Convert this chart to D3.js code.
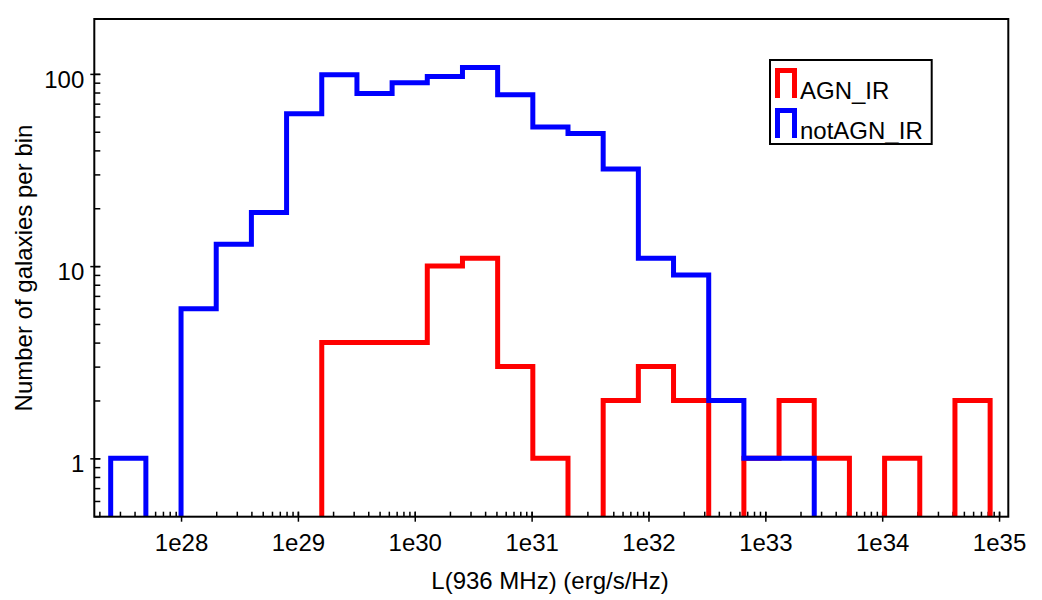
<!DOCTYPE html>
<html>
<head>
<meta charset="utf-8">
<script src="https://cdn.jsdelivr.net/npm/d3@7"></script>
<style>
  html, body { margin: 0; padding: 0; background: #fff; }
  svg { display: block; font-family: "Liberation Sans", Arial, Helvetica, sans-serif; }
</style>
</head>
<body>
<div class="canvas"></div>
<script>
// bin edges (erg/s/Hz), factor-2 log bins
const binEdges = [2.5e27, 5e27, 1e28, 2e28, 4e28, 8e28, 1.6e29, 3.2e29, 6.4e29, 1.28e30,
  2.56e30, 5.12e30, 1.024e31, 2.048e31, 4.096e31, 8.192e31, 1.6384e32, 3.2768e32,
  6.5536e32, 1.31072e33, 2.62144e33, 5.24288e33, 1.048576e34, 2.097152e34, 4.194304e34, 8.388608e34];

const agnCounts    = [0, 0, 0, 0, 0, 0, 4, 4, 4, 10, 11, 3, 1, 0, 2, 3, 2, 0, 1, 2, 1, 0, 1, 0, 2];
const notAgnCounts = [1, 0, 6, 13, 19, 62, 99, 79, 90, 97, 108, 78, 53, 49, 32, 11, 9, 2, 1, 1, 0, 0, 0, 0, 0];

const seriesNames = ['AGN_IR', 'notAGN_IR'];
const seriesColors = ['#ff0000', '#0000ff'];

const xDomain = [1.81e27, 1.2e35];
const yDomain = [0.497, 193];
const xTickLabels = ['1e28', '1e29', '1e30', '1e31', '1e32', '1e33', '1e34', '1e35'];
const yTickLabels = ['1', '10', '100'];

const dims = { width: 1042, height: 600 };
const frame = { left: 94.3, right: 1008.3, top: 19, bottom: 516.7 };

const svg = d3.select('.canvas')
  .append('svg')
  .attr('width', dims.width)
  .attr('height', dims.height);

const x = d3.scaleLog().domain(xDomain).range([frame.left, frame.right]);
const y = d3.scaleLog().domain(yDomain).range([frame.bottom, frame.top]);

svg.append('defs').append('clipPath')
  .attr('id', 'plotClip')
  .append('rect')
    .attr('x', frame.left)
    .attr('y', frame.top)
    .attr('width', frame.right - frame.left)
    .attr('height', frame.bottom - frame.top);

const isMajor = v => Math.abs(Math.log10(v) - Math.round(Math.log10(v))) < 1e-6;

// x axis: all ticks inward, decades also poke outward with labels
const xMinor = x.ticks().filter(v => v >= xDomain[0] && v <= xDomain[1]);
const xMajor = xMinor.filter(isMajor);

svg.append('g')
  .attr('transform', `translate(0, ${frame.bottom})`)
  .call(d3.axisBottom(x).tickValues(xMinor).tickSizeInner(-5).tickSizeOuter(0).tickFormat(''))
  .call(g => g.select('.domain').remove());

svg.append('g')
  .attr('class', 'x-major')
  .attr('transform', `translate(0, ${frame.bottom})`)
  .call(d3.axisBottom(x).tickValues(xMajor).tickSizeInner(5).tickSizeOuter(0).tickPadding(12)
    .tickFormat((d, i) => xTickLabels[i]))
  .call(g => g.select('.domain').remove())
  .call(g => g.selectAll('line').attr('y1', -5))
  .call(g => g.selectAll('text').attr('font-size', 24).attr('fill', '#000'));

// y axis
const yMinor = y.ticks().filter(v => v >= yDomain[0] && v <= yDomain[1]);
const yMajor = yMinor.filter(isMajor);

svg.append('g')
  .attr('transform', `translate(${frame.left}, 0)`)
  .call(d3.axisLeft(y).tickValues(yMinor).tickSizeInner(-6).tickSizeOuter(0).tickFormat(''))
  .call(g => g.select('.domain').remove());

svg.append('g')
  .attr('transform', `translate(${frame.left}, 0)`)
  .call(d3.axisLeft(y).tickValues(yMajor).tickSizeInner(4).tickSizeOuter(0).tickPadding(6)
    .tickFormat((d, i) => yTickLabels[i]))
  .call(g => g.select('.domain').remove())
  .call(g => g.selectAll('line').attr('x1', 6))
  .call(g => g.selectAll('text').attr('font-size', 24).attr('dy', '0.55em').attr('fill', '#000'));

svg.selectAll('.tick line').attr('stroke', '#000').attr('stroke-width', 1.5);

// histograms as step outlines
const below = frame.bottom + 20;
const yv = c => c > 0 ? y(c) : below;

const stepPoints = (counts) => {
  const pts = [[x(binEdges[0]), below]];
  counts.forEach((c, i) => {
    pts.push([x(binEdges[i]), yv(c)]);
    pts.push([x(binEdges[i + 1]), yv(c)]);
  });
  pts.push([x(binEdges[counts.length]), below]);
  return pts;
};

const line = d3.line();
const plot = svg.append('g').attr('clip-path', 'url(#plotClip)');

[agnCounts, notAgnCounts].forEach((counts, i) => {
  plot.append('path')
    .attr('d', line(stepPoints(counts)))
    .attr('fill', 'none')
    .attr('stroke', seriesColors[i])
    .attr('stroke-width', 5)
    .attr('stroke-linejoin', 'miter')
    .attr('stroke-linecap', 'butt');
});

// frame
svg.append('rect')
  .attr('x', frame.left)
  .attr('y', frame.top)
  .attr('width', frame.right - frame.left)
  .attr('height', frame.bottom - frame.top)
  .attr('fill', 'none')
  .attr('stroke', '#000')
  .attr('stroke-width', 2);

// axis titles
svg.append('text')
  .attr('x', 550)
  .attr('y', 589)
  .attr('text-anchor', 'middle')
  .attr('font-size', 24)
  .text('L(936 MHz) (erg/s/Hz)');

svg.append('text')
  .attr('transform', 'translate(32, 268) rotate(-90)')
  .attr('text-anchor', 'middle')
  .attr('font-size', 24)
  .text('Number of galaxies per bin');

// legend
const legend = svg.append('g').attr('transform', 'translate(770, 60)');

legend.append('rect')
  .attr('width', 161.7)
  .attr('height', 84)
  .attr('fill', '#fff')
  .attr('stroke', '#000')
  .attr('stroke-width', 2);

seriesNames.forEach((name, i) => {
  const row = legend.append('g').attr('transform', `translate(0, ${i * 40})`);
  row.append('path')
    .attr('d', 'M7.5,38 V10.5 H24.5 V38')
    .attr('fill', 'none')
    .attr('stroke', seriesColors[i])
    .attr('stroke-width', 5)
    .attr('stroke-linejoin', 'miter');
  row.append('text')
    .attr('x', 30)
    .attr('y', 39)
    .attr('font-size', 24)
    .text(name);
});
</script>
</body>
</html>
